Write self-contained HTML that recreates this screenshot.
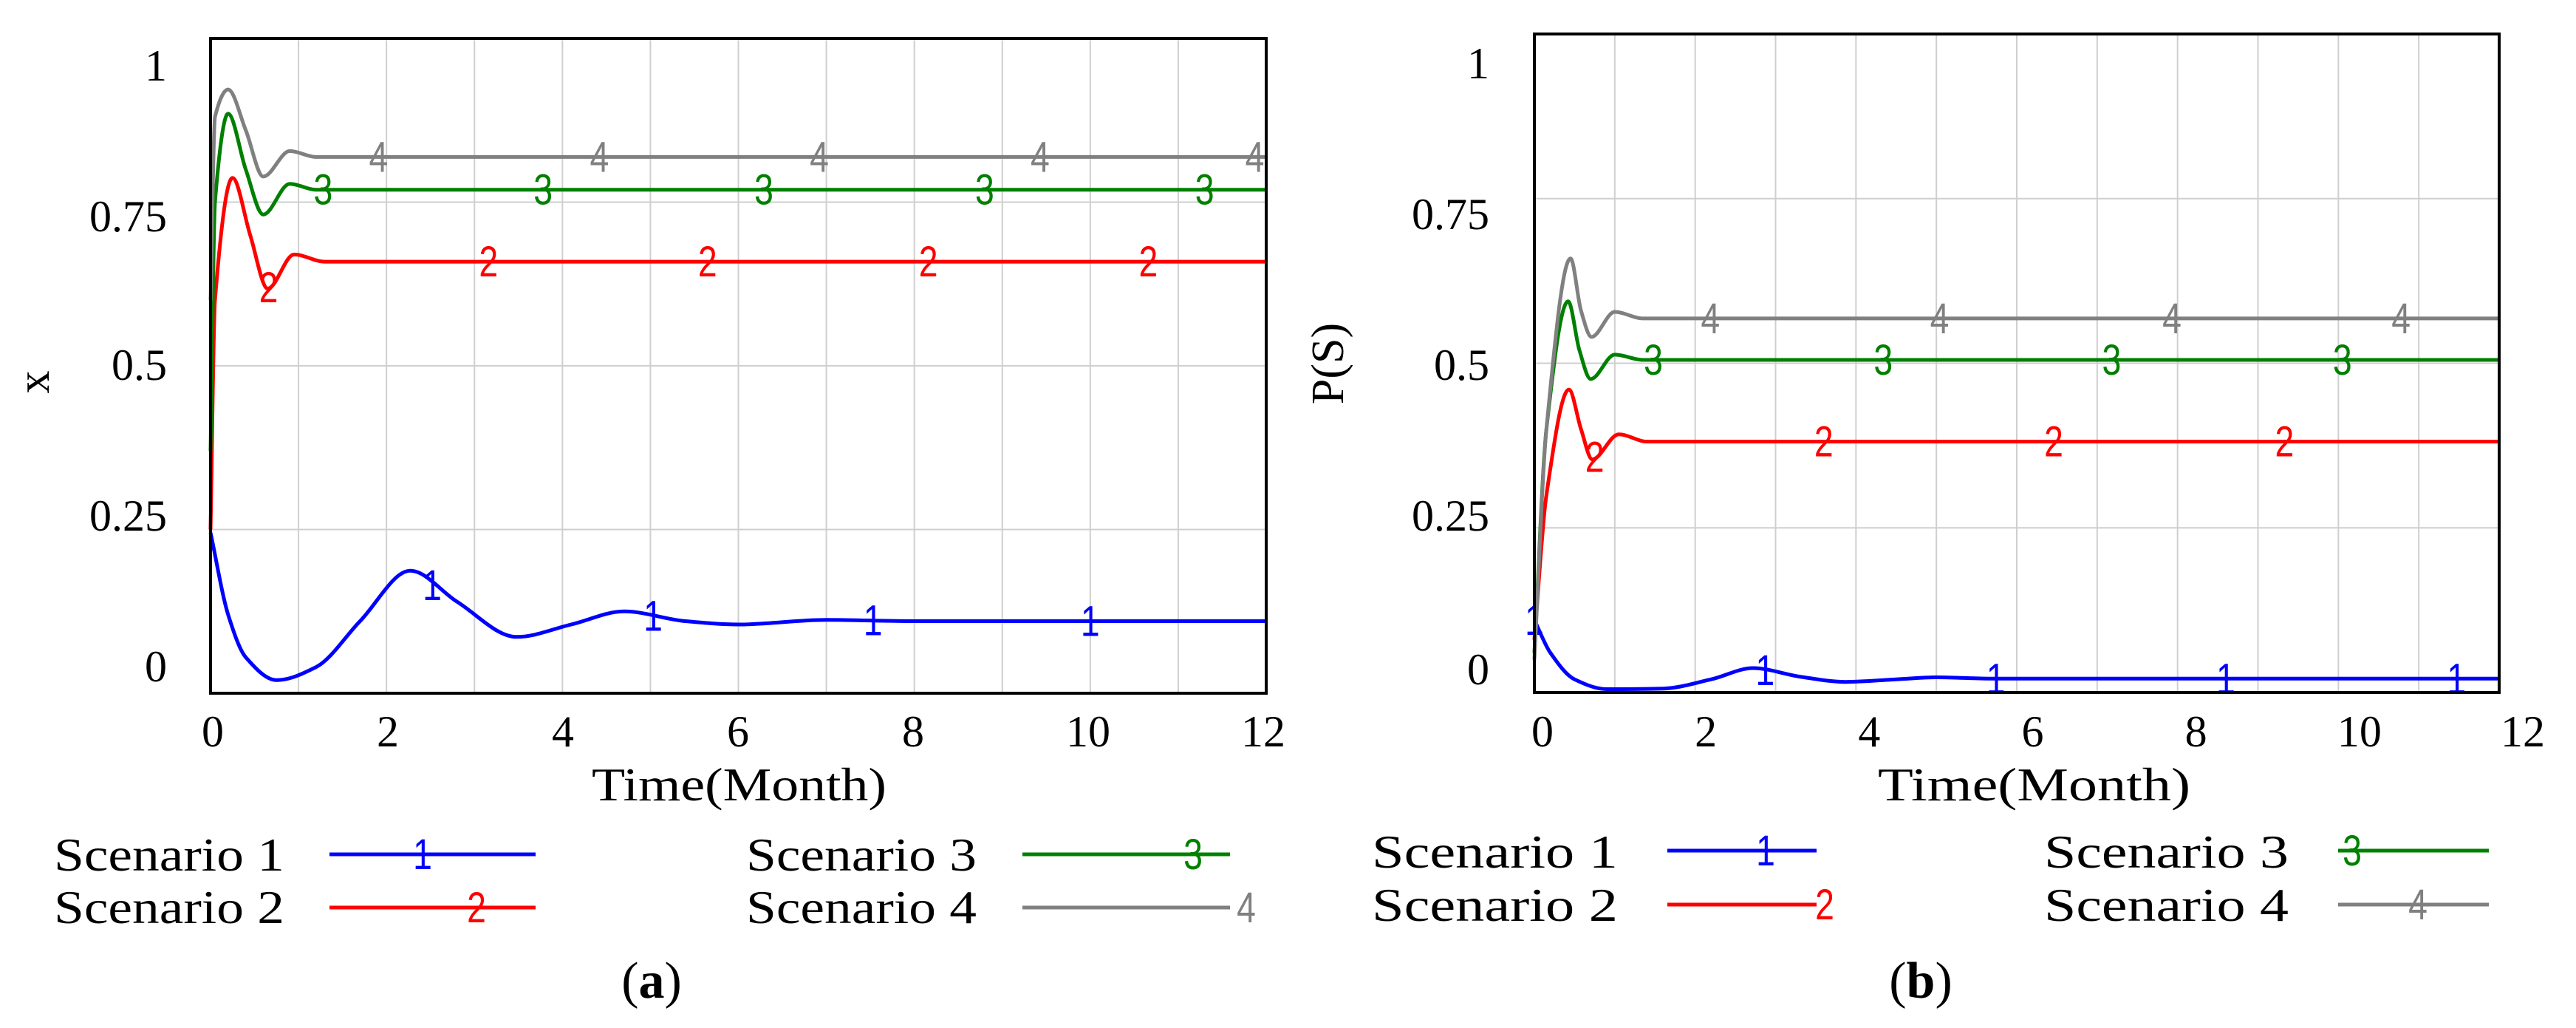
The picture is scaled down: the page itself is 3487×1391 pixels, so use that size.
<!DOCTYPE html>
<html><head><meta charset="utf-8">
<style>
html,body{margin:0;padding:0;background:#fff;}
svg{display:block;}
text{font-family:"Liberation Serif",serif;}
.mk{font-family:"Liberation Sans",sans-serif;}
</style></head>
<body>
<svg id="fig" width="3487" height="1391" viewBox="0 0 3487 1391" xmlns="http://www.w3.org/2000/svg"></svg>
<script>
// ---- Chart (a) data ----
const timeTicks = [0,2,4,6,8,10,12];
const yTickLabels = ["0","0.25","0.5","0.75","1"];
const a_s1_t = [0,0.2,0.4,0.75,1.2,1.7,2.27,2.8,3.48,4.1,4.7,5.4,6.0,7,8,12];
const a_s1_v = [0.245,0.12,0.055,0.02,0.04,0.11,0.187,0.14,0.086,0.105,0.125,0.11,0.105,0.112,0.11,0.11];
const a_s2_t = [0,0.05,0.25,0.45,0.65,0.95,1.3,1.6,12];
const a_s2_v = [0.25,0.6,0.787,0.70,0.618,0.67,0.659,0.659,0.659];
const a_s3_t = [0,0.05,0.2,0.4,0.6,0.9,1.2,1.5,12];
const a_s3_v = [0.37,0.75,0.885,0.80,0.731,0.778,0.769,0.769,0.769];
const a_s4_t = [0,0.05,0.2,0.4,0.6,0.9,1.2,1.5,12];
const a_s4_v = [0.6,0.88,0.922,0.86,0.789,0.828,0.819,0.819,0.819];
const a_m1 = [2.52,5.03,7.53,10.0];
const a_m2 = [0.66,3.16,5.65,8.16,10.66];
const a_m3 = [1.28,3.78,6.29,8.8,11.3];
const a_m4 = [1.91,4.42,6.92,9.43,11.87];
// ---- Chart (b) data ----
const b_s1_t = [0,0.2,0.5,0.9,1.6,2.2,2.72,3.3,3.87,4.5,5.0,5.7,12];
const b_s1_v = [0.11,0.06,0.02,0.005,0.006,0.02,0.037,0.024,0.016,0.02,0.023,0.021,0.021];
const b_s2_t = [0,0.15,0.43,0.58,0.72,1.05,1.4,1.7,12];
const b_s2_v = [0.08,0.3,0.46,0.40,0.354,0.392,0.381,0.381,0.381];
const b_s3_t = [0,0.15,0.42,0.56,0.7,1.0,1.35,1.65,12];
const b_s3_v = [0.06,0.4,0.594,0.52,0.476,0.513,0.505,0.505,0.505];
const b_s4_t = [0,0.15,0.45,0.58,0.71,1.0,1.35,1.65,12];
const b_s4_v = [0.05,0.4,0.659,0.58,0.54,0.578,0.568,0.568,0.568];
const b_m1 = [0,2.87,5.74,8.6,11.47];
const b_m2 = [0.75,3.6,6.46,9.33];
const b_m3 = [1.48,4.34,7.18,10.05];
const b_m4 = [2.19,5.04,7.93,10.78];

const NS = "http://www.w3.org/2000/svg";
const svg = document.getElementById('fig');
function mk(tag, attrs, parent){
  const e = document.createElementNS(NS, tag);
  for (const k in attrs) e.setAttribute(k, attrs[k]);
  (parent||svg).appendChild(e);
  return e;
}
function txt(s, attrs, parent){ const e = mk('text', attrs, parent); e.textContent = s; return e; }
function interp(ts, vs, t){
  for (let i=0;i<ts.length-1;i++){ if (t>=ts[i] && t<=ts[i+1]) { const f=(t-ts[i])/(ts[i+1]-ts[i]); return vs[i]+f*(vs[i+1]-vs[i]); } }
  return vs[vs.length-1];
}
// x-monotone cubic Hermite curve (no backtracking)
function curve(pts){
  const n = pts.length;
  const sl = [];
  for (let i=0;i<n-1;i++) sl.push((pts[i+1][1]-pts[i][1])/(pts[i+1][0]-pts[i][0]));
  const m = [];
  for (let i=0;i<n;i++){
    if (i===0) m.push(sl[0]);
    else if (i===n-1) m.push(sl[n-2]);
    else if (sl[i-1]*sl[i] <= 0) m.push(0);
    else m.push(2/(1/sl[i-1]+1/sl[i]));
  }
  let d = "M"+pts[0][0].toFixed(1)+","+pts[0][1].toFixed(1);
  for (let i=0;i<n-1;i++){
    const dx = (pts[i+1][0]-pts[i][0])/3;
    d += " C"+(pts[i][0]+dx).toFixed(1)+","+(pts[i][1]+m[i]*dx).toFixed(1)+" "+(pts[i+1][0]-dx).toFixed(1)+","+(pts[i+1][1]-m[i+1]*dx).toFixed(1)+" "+pts[i+1][0].toFixed(1)+","+pts[i+1][1].toFixed(1);
  }
  return d;
}

function chart(cfg){
  const g = mk('g', {});
  
  
  const X = t => cfg.L + (t/12)*(cfg.R-cfg.L);
  const Y = v => cfg.B - v*(cfg.B-cfg.T);
  for (let i=1;i<12;i++){
    const l = mk('line', {x1:X(i), x2:X(i), y1:cfg.T, y2:cfg.B, stroke:'#cfcfcf', 'stroke-width':2}, g);
    
    
  }
  for (let i=1;i<4;i++){
    const l = mk('line', {x1:cfg.L, x2:cfg.R, y1:Y(i*0.25), y2:Y(i*0.25), stroke:'#cfcfcf', 'stroke-width':2}, g);
    
    
  }
  const colors = ['#0000ff','#ff0000','#008000','#808080'];
  cfg.series.forEach((s, si) => {
    const pts = s.t.map((t,i)=>[X(t), Y(s.v[i])]);
    const p = mk('path', {d:curve(pts), fill:'none', stroke:colors[si], 'stroke-width':5, 'stroke-linejoin':'round'}, g);
    
    
    s.m.forEach(t => {
      const m = txt(String(si+1), {x:X(t), y:Y(interp(s.t,s.v,t))+20, 'text-anchor':'middle', 'font-size':58, fill:colors[si], class:'mk', transform:'translate('+X(t)+',0) scale(0.8,1) translate('+(-X(t))+',0)'}, g);
      
      
    });
  });
  const f = mk('rect', {x:cfg.L, y:cfg.T, width:cfg.R-cfg.L, height:cfg.B-cfg.T, fill:'none', stroke:'#000', 'stroke-width':4}, g);
  
  
  timeTicks.forEach((t,i) => {
    const e = txt(String(t), {x:cfg.xl0 + (t/12)*(cfg.xl12-cfg.xl0), y:1010, 'text-anchor':'middle', 'font-size':60}, g);
    
    
  });
  yTickLabels.forEach((s,i) => {
    const e = txt(s, {x:cfg.yr, y:cfg.ylab[i]+20, 'text-anchor':'end', 'font-size':60}, g);
    
    
  });
  const xt = txt('Time(Month)', {x:cfg.xt0, y:1083, 'font-size':64, textLength:cfg.xt1-cfg.xt0, lengthAdjust:'spacingAndGlyphs'}, g);
  
  
  const yt = txt(cfg.ytitle, {x:0, y:0, 'text-anchor':'middle', 'font-size':62, transform:'translate('+cfg.ytx+','+cfg.yty+') rotate(-90)'}, g);
  
  
  const lg = mk('g', {}, g);
  
  
  cfg.legend.forEach((L, i) => {
    const e = txt('Scenario '+(i+1), {x:L.tx0, y:L.by, 'font-size':64, textLength:L.tx1-L.tx0, lengthAdjust:'spacingAndGlyphs'}, lg);
    
    
    const l = mk('line', {x1:L.lx0, x2:L.lx1, y1:L.ly, y2:L.ly, stroke:colors[i], 'stroke-width':5}, lg);
    
    
    const m = txt(String(i+1), {x:L.mx, y:L.ly+20, 'text-anchor':'middle', 'font-size':58, fill:colors[i], class:'mk', transform:'translate('+L.mx+',0) scale(0.8,1) translate('+(-L.mx)+',0)'}, lg);
    
    
  });
  const c = txt('', {x:cfg.capx, y:1350, 'text-anchor':'middle', 'font-size':70}, g);
  
  
  c.innerHTML = '(<tspan font-weight="bold">'+cfg.caption+'</tspan>)';
}

chart({name:'chart-a', L:285, R:1714, T:52, B:938,
  series:[{t:a_s1_t,v:a_s1_v,m:a_m1},{t:a_s2_t,v:a_s2_v,m:a_m2},{t:a_s3_t,v:a_s3_v,m:a_m3},{t:a_s4_t,v:a_s4_v,m:a_m4}],
  xl0:288, xl12:1710, yr:226, ylab:[902,698,494,293,89],
  xt0:801, xt1:1200, ytitle:'x', ytx:66, yty:517,
  legend:[
    {tx0:73,tx1:385,by:1178,lx0:446,lx1:725,ly:1156,mx:572},
    {tx0:73,tx1:385,by:1249,lx0:446,lx1:725,ly:1228,mx:645},
    {tx0:1010,tx1:1322,by:1178,lx0:1384,lx1:1665,ly:1156,mx:1615},
    {tx0:1010,tx1:1322,by:1249,lx0:1384,lx1:1665,ly:1228,mx:1687}],
  caption:'a', capx:882});

chart({name:'chart-b', L:2077, R:3383, T:46, B:937,
  series:[{t:b_s1_t,v:b_s1_v,m:b_m1},{t:b_s2_t,v:b_s2_v,m:b_m2},{t:b_s3_t,v:b_s3_v,m:b_m3},{t:b_s4_t,v:b_s4_v,m:b_m4}],
  xl0:2088, xl12:3415, yr:2016, ylab:[906,698,494,290,86],
  xt0:2542, xt1:2965, ytitle:'P(S)', ytx:1818, yty:492,
  legend:[
    {tx0:1857,tx1:2190,by:1174,lx0:2257,lx1:2459,ly:1151,mx:2390},
    {tx0:1857,tx1:2190,by:1246,lx0:2257,lx1:2459,ly:1224,mx:2470},
    {tx0:2767,tx1:3098,by:1174,lx0:3165,lx1:3369,ly:1151,mx:3184},
    {tx0:2767,tx1:3098,by:1246,lx0:3165,lx1:3369,ly:1224,mx:3273}],
  caption:'b', capx:2600});
</script>
</body></html>
